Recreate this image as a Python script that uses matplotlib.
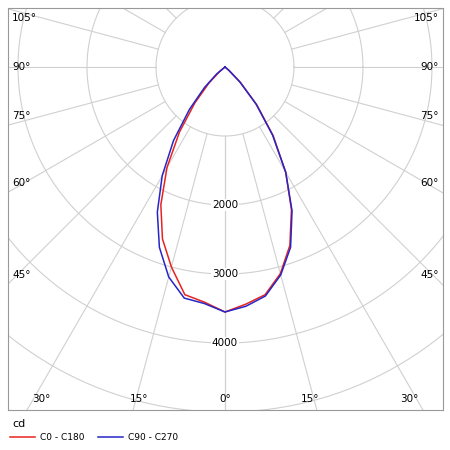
import numpy as np
import matplotlib.pyplot as plt

# intensity distribution, angle from nadir (deg) -> cd
angles = [-55, -50, -45, -40, -35, -30, -25, -20, -15, -10, -5, 0, 5, 10, 15, 20, 25, 30, 35, 40, 45, 50, 55]
c0_c180 = [0, 100, 330, 680, 1150, 1680, 2200, 2650, 3000, 3350, 3420, 3550, 3450, 3350, 3100, 2750, 2280, 1760, 1220, 720, 320, 80, 0]
c90_c270 = [0, 160, 420, 800, 1300, 1820, 2320, 2780, 3150, 3400, 3440, 3550, 3480, 3370, 3120, 2780, 2300, 1760, 1200, 700, 300, 60, 0]
ring_labels = [2000, 3000, 4000]
angle_labels = [0, 15, 30, 45, 60, 75, 90, 105]

fig = plt.figure(figsize=(4.5, 4.5), dpi=100)
ax = fig.add_axes([8/450, 40/450, 435/450, 402/450])
x0, x1, y0, y1 = -3145, 3160, -4970, 855
ax.set_xlim(x0, x1)
ax.set_ylim(y0, y1)
ax.set_aspect('auto')
ax.set_xticks([])
ax.set_yticks([])
for s in ax.spines.values():
    s.set_color('#999999')
    s.set_linewidth(0.8)

grid = '#d0d0d0'
t = np.linspace(0, 2 * np.pi, 400)
for r in range(1000, 8000, 1000):
    ax.plot(r * np.cos(t), r * np.sin(t), color=grid, lw=0.8, zorder=1)
for a in range(0, 181, 15):
    for sgn in (1, -1):
        th = np.radians(a) * sgn
        ax.plot([1000 * np.sin(th), 9000 * np.sin(th)], [-1000 * np.cos(th), -9000 * np.cos(th)],
                color=grid, lw=0.8, zorder=1)

for r in ring_labels:
    ax.text(0, -r, str(r), ha='center', va='center', fontsize=7.5,
            bbox=dict(fc='white', ec='none', pad=1), zorder=3)

for a in angle_labels:
    th = np.radians(a)
    if a == 0:
        ax.text(0, y0 + 90, '0°', ha='center', va='bottom', fontsize=7.5)
        continue
    tx = 3145 / np.sin(th)
    ty = -np.cos(th) * tx
    if ty >= y0 and ty <= y1:
        if a == 90:
            yy, va = ty, 'center'
        elif ty > 0:
            yy, va = ty - 60, 'top'
        else:
            yy, va = ty + 60, 'bottom'
        for xx, ha in ((x0 + 60, 'left'), (x1 - 60, 'right')):
            ax.text(xx, yy, f'{a}°', ha=ha, va=va, fontsize=7.5)
    else:
        bx = -y0 * np.tan(th) * 0.93
        for sgn in (-1, 1):
            ax.text(sgn * bx, y0 + 90, f'{a}°', ha='center', va='bottom', fontsize=7.5)

th = np.radians(angles)
ax.plot(np.array(c0_c180) * np.sin(th), -np.array(c0_c180) * np.cos(th), color='#e8231f', lw=1.1, zorder=4)
ax.plot(np.array(c90_c270) * np.sin(th), -np.array(c90_c270) * np.cos(th), color='#2626c8', lw=1.1, zorder=5)

fig.text(12/450, 1 - 424/450, 'cd', fontsize=8, va='center')
fig.add_artist(plt.Line2D([10/450, 35/450], [1 - 437/450] * 2, color='#e8231f', lw=1.1))
fig.text(40/450, 1 - 437/450, 'C0 - C180', fontsize=6.5, va='center')
fig.add_artist(plt.Line2D([98/450, 123/450], [1 - 437/450] * 2, color='#2626c8', lw=1.1))
fig.text(128/450, 1 - 437/450, 'C90 - C270', fontsize=6.5, va='center')

fig.savefig('out.png')
